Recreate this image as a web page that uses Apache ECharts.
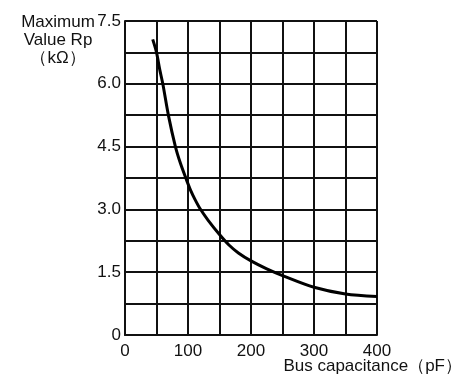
<!DOCTYPE html>
<html>
<head>
<meta charset="utf-8">
<script src="https://cdn.jsdelivr.net/npm/echarts@6/dist/echarts.min.js"></script>
<style>
html,body{margin:0;padding:0;background:#fff;}
#chart{width:475px;height:380px;}
</style>
</head>
<body>
<div id="chart"></div>
<script>
// Bus capacitance (pF) vs maximum Rp (kΩ)
var capacitance = [44, 50, 55, 60, 69, 80, 88, 97, 104, 111, 119, 132, 150, 165, 180, 200, 225, 250, 300, 350, 400];
var maxRp      = [7.06, 6.75, 6.35, 6.0, 5.24, 4.5, 4.1, 3.73, 3.46, 3.24, 3.02, 2.74, 2.4, 2.15, 1.96, 1.77, 1.58, 1.42, 1.14, 0.98, 0.92];

var xTickValues = [0, 100, 200, 300, 400];
var xTickLabels = ['0', '100', '200', '300', '400'];
var yTickValues = [0, 1.5, 3.0, 4.5, 6.0, 7.5];
var yTickLabels = ['0', '1.5', '3.0', '4.5', '6.0', '7.5'];

var yAxisTitle = ['Maximum', 'Value Rp', '（kΩ）'];
var xAxisTitle = 'Bus capacitance（pF）';

function pick(values, labels, v) {
  for (var i = 0; i < values.length; i++) {
    if (Math.abs(values[i] - v) < 1e-6) return labels[i];
  }
  return '';
}

var font = '"Liberation Sans", Arial, sans-serif';
var chart = echarts.init(document.getElementById('chart'), null, {renderer: 'canvas'});

chart.setOption({
  animation: false,
  backgroundColor: '#ffffff',
  grid: {left: 125, right: 98, top: 21, bottom: 45, show: false},
  xAxis: {
    type: 'value', min: 0, max: 400, interval: 50,
    axisLine: {show: true, lineStyle: {color: '#111', width: 2}},
    axisTick: {show: false},
    splitLine: {show: true, lineStyle: {color: '#111', width: 2}},
    axisLabel: {
      color: '#111', fontFamily: font, fontSize: 17, margin: 8,
      formatter: function (v) { return pick(xTickValues, xTickLabels, v); }
    }
  },
  yAxis: {
    type: 'value', min: 0, max: 7.5, interval: 0.75,
    axisLine: {show: true, lineStyle: {color: '#111', width: 2}},
    axisTick: {show: false},
    splitLine: {show: true, lineStyle: {color: '#111', width: 2}},
    axisLabel: {
      color: '#111', fontFamily: font, fontSize: 17, margin: 4,
      formatter: function (v) { return pick(yTickValues, yTickLabels, v); }
    }
  },
  graphic: [
    {type: 'text', x: 58, y: 13,
     style: {text: yAxisTitle.join('\n'), fill: '#111', font: '17px ' + font, textAlign: 'center', lineHeight: 18}},
    {type: 'text', x: 462, y: 358,
     style: {text: xAxisTitle, fill: '#111', font: '17px ' + font, textAlign: 'right'}},
    {type: 'line', shape: {x1: 377, y1: 21, x2: 377, y2: 335}, style: {stroke: '#111', lineWidth: 2}}
  ],
  series: [{
    type: 'line',
    data: capacitance.map(function (c, i) { return [c, maxRp[i]]; }),
    smooth: 0.3,
    showSymbol: false,
    lineStyle: {color: '#000', width: 3},
    clip: false
  }]
});
</script>
</body>
</html>
